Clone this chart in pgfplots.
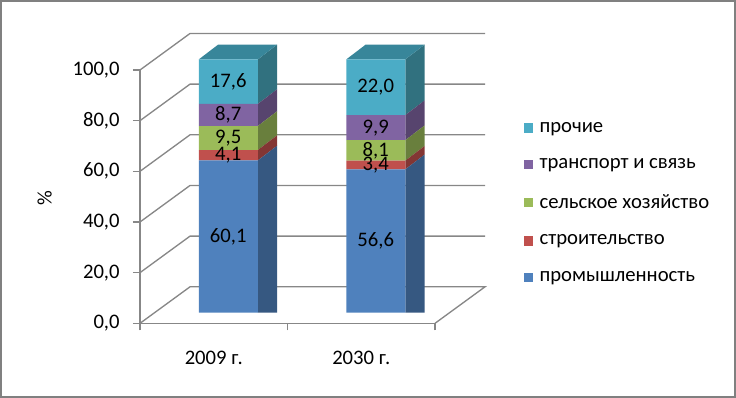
\documentclass[border=0pt]{standalone}
\usepackage{fontspec}
\setmainfont{Carlito}
\usepackage{pgfplots}
\usepackage{pgfplotstable}
\pgfplotsset{compat=1.18}
\definecolor{cblue}{HTML}{4F81BD}
\definecolor{cred}{HTML}{C0504D}
\definecolor{cgreen}{HTML}{9BBB59}
\definecolor{cpurple}{HTML}{8064A2}
\definecolor{caqua}{HTML}{4BACC6}
\definecolor{sblue}{HTML}{365881}
\definecolor{sred}{HTML}{833634}
\definecolor{sgreen}{HTML}{697F3D}
\definecolor{spurple}{HTML}{57446E}
\definecolor{saqua}{HTML}{31717F}
\definecolor{taqua}{HTML}{38869A}
\definecolor{gridgray}{HTML}{878787}
\definecolor{framegray}{HTML}{808080}
\newcommand\cf{\fontsize{15.5}{18}\selectfont}
\pgfkeys{/pgf/number format/.cd, use comma, fixed, fixed zerofill, precision=1, assume math mode=true}
\pgfplotstableread{
x   prom  stroi  selsk  trans  proch
0.5 60.1  4.1    9.5    8.7    17.6
1.5 56.6  3.4    8.1    9.9    22.0
}\datatable
\pgfplotsset{
  sideax/.style={
    anchor=origin, x={(14.55pt,11.1pt)}, y={(0pt,1.9pt)},
    xmin=0, xmax=1, ymin=0, ymax=100, hide axis, clip=false, stack plots=y,
  },
}
\begin{document}
\begin{tikzpicture}
\path[use as bounding box] (-105pt,-56pt) rectangle (447pt,242.5pt);
% main axis: front edges, ticks, walls
\begin{axis}[
  anchor=origin, at={(0pt,0pt)},
  x={(110.625pt,0pt)}, y={(0pt,1.9pt)},
  xmin=0, xmax=2, ymin=0, ymax=100,
  axis x line=bottom, axis y line=left,
  axis line style={-, draw=gridgray, line width=1pt},
  clip=false,
  tick align=outside, major tick length=5.25pt,
  every tick/.style={gridgray, line width=1pt},
  ytick={0,20,40,60,80,100},
  xtick={0,1,2}, xticklabels={},
  extra x ticks={0.5,1.5}, extra x tick labels={2009 г.,2030 г.},
  extra x tick style={major tick length=0pt},
  tick label style={font=\cf, text=black},
  yticklabel style={xshift=-6.5pt},
  xticklabel style={yshift=-17.5pt},
  ylabel={\%}, ylabel style={font=\cf, at={(axis description cs:-0.3235,0.495)}, anchor=center},
]
\addplot[gridgray, line width=1pt, forget plot] coordinates {(0,0) (0.339,14.41) (2.339,14.41) (2,0)};
\addplot[gridgray, line width=1pt, forget plot] coordinates {(0,20) (0.339,34.41) (2.339,34.41)};
\addplot[gridgray, line width=1pt, forget plot] coordinates {(0,40) (0.339,54.41) (2.339,54.41)};
\addplot[gridgray, line width=1pt, forget plot] coordinates {(0,60) (0.339,74.41) (2.339,74.41)};
\addplot[gridgray, line width=1pt, forget plot] coordinates {(0,80) (0.339,94.41) (2.339,94.41)};
\addplot[gridgray, line width=1pt, forget plot] coordinates {(0,100) (0.339,114.41) (2.339,114.41)};
\end{axis}
% side faces, bar 2009
\begin{axis}[sideax, at={(88.34pt,7.95pt)}]
\addplot[fill=sblue, draw=none] coordinates {(0,60.1) (1,60.1)} \closedcycle;
\addplot[fill=sred, draw=none] coordinates {(0,4.1) (1,4.1)} \closedcycle;
\addplot[fill=sgreen, draw=none] coordinates {(0,9.5) (1,9.5)} \closedcycle;
\addplot[fill=spurple, draw=none] coordinates {(0,8.7) (1,8.7)} \closedcycle;
\addplot[fill=saqua, draw=none] coordinates {(0,17.6) (1,17.6)} \closedcycle;
\end{axis}
% side faces, bar 2030
\begin{axis}[sideax, at={(198.96pt,7.95pt)}]
\addplot[fill=sblue, draw=none] coordinates {(0,56.6) (1,56.6)} \closedcycle;
\addplot[fill=sred, draw=none] coordinates {(0,3.4) (1,3.4)} \closedcycle;
\addplot[fill=sgreen, draw=none] coordinates {(0,8.1) (1,8.1)} \closedcycle;
\addplot[fill=spurple, draw=none] coordinates {(0,9.9) (1,9.9)} \closedcycle;
\addplot[fill=saqua, draw=none] coordinates {(0,22.0) (1,22.0)} \closedcycle;
\end{axis}
% top faces
\begin{axis}[
  anchor=origin, at={(10.9pt,197.95pt)},
  x={(110.625pt,0pt)}, y={(14.55pt,11.1pt)},
  xmin=0, xmax=2, ymin=0, ymax=1, hide axis, clip=false,
]
\addplot[fill=taqua, draw=none] coordinates {(0.3,0) (0.7,0) (0.7,1) (0.3,1)} -- cycle;
\addplot[fill=taqua, draw=none] coordinates {(1.3,0) (1.7,0) (1.7,1) (1.3,1)} -- cycle;
\end{axis}
% front faces of the bars
\begin{axis}[
  anchor=origin, at={(10.9pt,7.95pt)},
  x={(110.625pt,0pt)}, y={(0pt,1.9pt)},
  xmin=0, xmax=2, ymin=0, ymax=100, hide axis, clip=false,
  ybar stacked, bar width=0.4,
  nodes near coords,
  every node near coord/.append style={anchor=center, font=\cf, text=black},
  reverse legend, legend cell align=left,
  legend style={draw=none, fill=none, at={(axis cs:2.50,76.4)}, anchor=north west, font=\cf, inner sep=0pt, row sep=14.2pt, /tikz/every odd column/.append style={column sep=3pt}},
  legend image code/.code={\fill[#1] (0pt,-3.5pt) rectangle (7pt,3.5pt);},
]
\addplot[fill=cblue, draw=none] table[x=x, y=prom]{\datatable};
\addlegendentry{промышленность}
\addplot[fill=cred, draw=none] table[x=x, y=stroi]{\datatable};
\addlegendentry{строительство}
\addplot[fill=cgreen, draw=none] table[x=x, y=selsk]{\datatable};
\addlegendentry{сельское хозяйство}
\addplot[fill=cpurple, draw=none] table[x=x, y=trans]{\datatable};
\addlegendentry{транспорт и связь}
\addplot[fill=caqua, draw=none] table[x=x, y=proch]{\datatable};
\addlegendentry{прочие}
\end{axis}
\draw[framegray, line width=1.5pt] (-104.25pt,-55.25pt) rectangle (446.25pt,241.75pt);
\end{tikzpicture}
\end{document}
